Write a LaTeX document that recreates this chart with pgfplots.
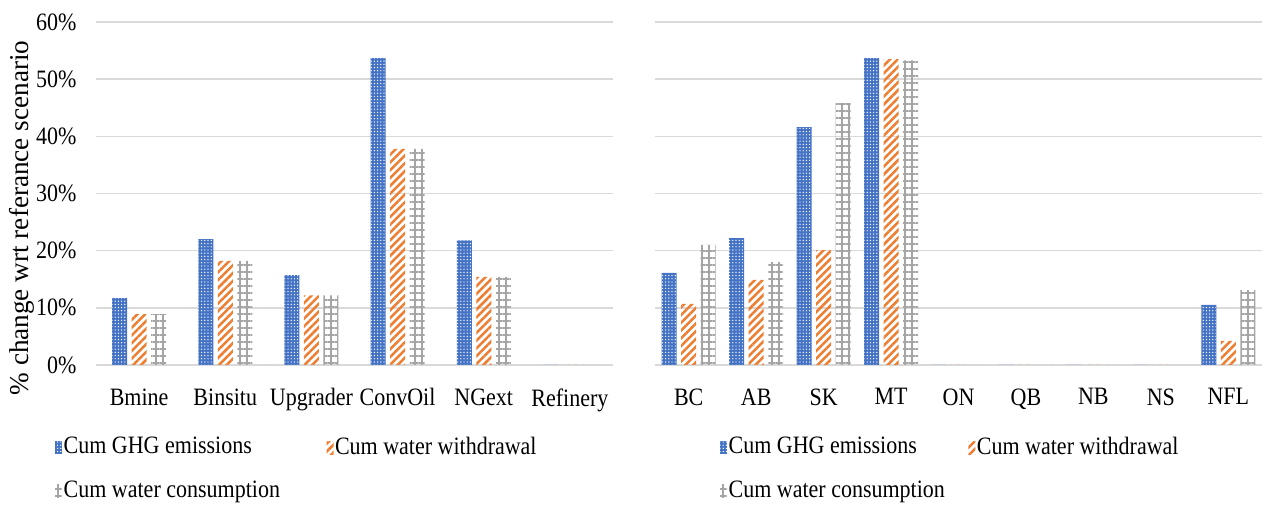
\documentclass[border=0pt]{standalone}
\usepackage{pgfplots}
\usepackage{pgfplotstable}
\pgfplotsset{compat=1.18}
\usepackage{fontspec}
\setmainfont{Liberation Serif}[FakeStretch=0.88]
\newfontfamily\plainserif{Liberation Serif}
\usetikzlibrary{patterns.meta}
\definecolor{cblue}{RGB}{68,114,196}
\definecolor{corange}{RGB}{237,125,49}
\definecolor{cgray}{RGB}{165,165,165}
\definecolor{cgrid}{RGB}{217,217,217}

\pgfplotstableread{
x ghg wd wc
0 11.7 8.9 8.9
1 22.0 18.2 18.2
2 15.7 12.2 12.2
3 53.7 37.8 37.8
4 21.8 15.4 15.4
5 0 0 0
}\lefttab
\pgfplotstableread{
x ghg wd wc
0 16.1 10.7 21.0
1 22.2 14.9 18.0
2 41.6 20.1 45.8
3 53.7 53.5 53.3
4 0 0 0
5 0 0 0
6 0 0 0
7 0 0 0
8 10.5 4.2 13.1
}\righttab

\newcommand{\fs}{\fontsize{25}{30}\selectfont}

\pgfplotsset{
  common/.style={
    ybar=4.5pt, bar width=15pt,
    scale only axis, height=343pt,
    ymin=0, ymax=60, ytick={0,10,...,60},
    enlargelimits=false,
    ymajorgrids, major grid style={cgrid, line width=1.5pt},
    axis line style={draw=none},
    major tick length=0pt,
    font=\fs,
    xticklabel style={yshift=-15pt},
    legend columns=2,
    legend cell align=left,
    legend image code/.code={\draw[##1,draw=none] (0pt,-6.5pt) rectangle (7pt,6.5pt);},
  },
  sghg/.style={draw=none, fill=cblue, postaction={pattern={Dots[distance=3.2pt,radius=0.7pt]}, pattern color=white}},
  swd/.style={draw=none, pattern={Lines[angle=45,distance=5.5pt,line width=2.5pt]}, pattern color=corange},
  swc/.style={draw=none, pattern={Hatch[angle=0,distance=7pt,line width=1.4pt,xshift=2pt,yshift=3pt]}, pattern color=cgray},
}

\begin{document}
\fs
\begin{tikzpicture}[x=1pt,y=1pt]
\useasboundingbox (0,0) rectangle (1264,506);
\begin{axis}[common,
  at={(96pt,141pt)}, anchor=south west,
  width=517pt,
  xmin=-0.5, xmax=5.5,
  xtick={0,...,5},
  xticklabels={Bmine,Binsitu,Upgrader,ConvOil,NGext,Refinery},
  yticklabels={0\%,10\%,20\%,30\%,40\%,50\%,60\%},
  yticklabel style={xshift=-11pt},
  legend style={at={(-0.0793,-0.205)}, anchor=north west, draw=none, fill=none, inner sep=0pt,
    nodes={inner sep=1.5pt, font=\fs}, row sep=20pt,
    /tikz/every even column/.append style={column sep=45pt}},
]
\addplot[sghg] table[x=x,y=ghg]{\lefttab};
\addplot[swd] table[x=x,y=wd]{\lefttab};
\addplot[swc] table[x=x,y=wc]{\lefttab};
\legend{Cum GHG emissions, Cum water withdrawal, Cum water consumption}
\end{axis}
\begin{axis}[common,
  at={(655pt,141pt)}, anchor=south west,
  width=607pt,
  xmin=-0.5, xmax=8.5,
  xtick={0,...,8},
  xticklabels={BC,AB,SK,MT,ON,QB,NB,NS,NFL},
  yticklabels={},
  legend style={at={(0.107,-0.205)}, anchor=north west, draw=none, fill=none, inner sep=0pt,
    nodes={inner sep=1.5pt, font=\fs}, row sep=20pt,
    /tikz/every even column/.append style={column sep=22pt}},
]
\addplot[sghg] table[x=x,y=ghg]{\righttab};
\addplot[swd] table[x=x,y=wd]{\righttab};
\addplot[swc] table[x=x,y=wc]{\righttab};
\legend{Cum GHG emissions, Cum water withdrawal, Cum water consumption}
\end{axis}
\node[rotate=90, font={\plainserif\fontsize{27.2}{31}\selectfont}] at (22,288) {\% change wrt referance scenario};
\end{tikzpicture}
\end{document}
